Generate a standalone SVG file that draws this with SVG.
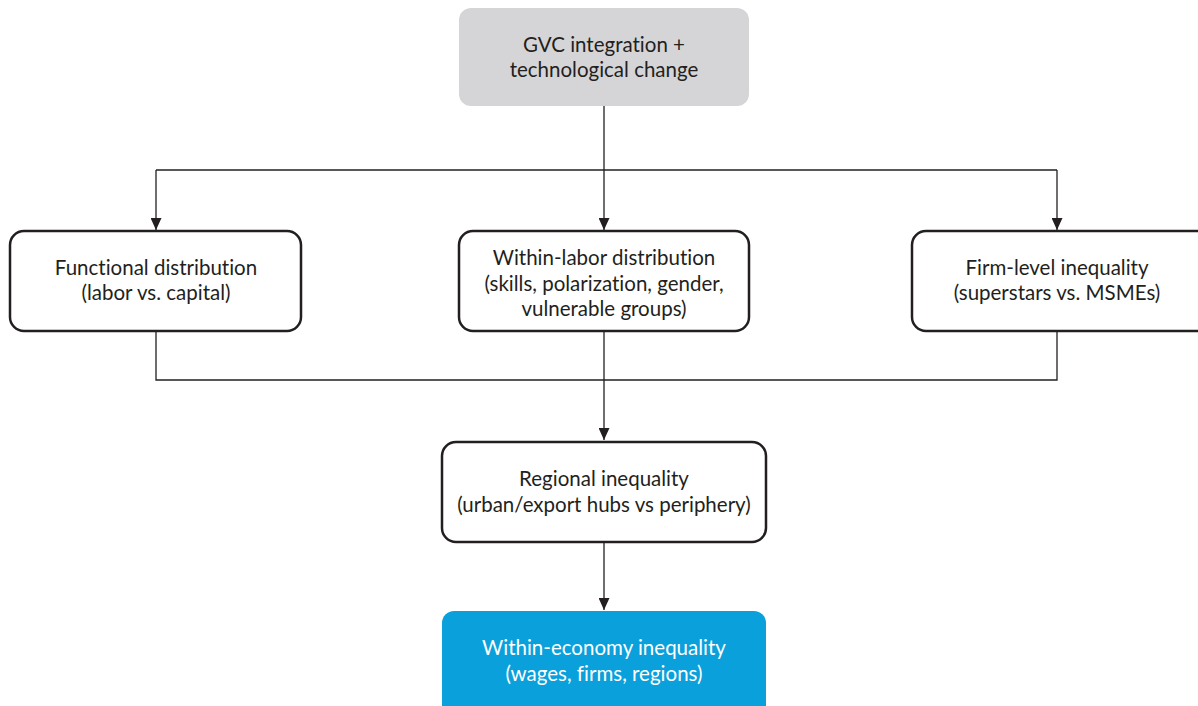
<svg xmlns="http://www.w3.org/2000/svg" width="1198" height="706" viewBox="0 0 1198 706">
<style>
.box{fill:#ffffff;stroke:#231f20;stroke-width:2.5}
.t{font-family:Lato,"Open Sans",sans-serif;font-size:20.5px;fill:#231f20;text-anchor:middle;font-variant-ligatures:none;font-feature-settings:"liga" 0,"clig" 0,"dlig" 0}
.w{fill:#ffffff}
.c{fill:none;stroke:#231f20;stroke-width:1.3}
</style>
<defs>
<marker id="ah" viewBox="0 0 12 11" refX="12" refY="5.5" markerWidth="12" markerHeight="11" markerUnits="userSpaceOnUse" orient="auto">
<path d="M0,0 L12,5.5 L0,11 z" fill="#231f20"/>
</marker>
</defs>
<rect width="1198" height="706" fill="#ffffff"/>
<g id="connectors">
<path class="c" d="M604,106 V170"/>
<path class="c" d="M156,170 H1057"/>
<path class="c" d="M156,170 V230" marker-end="url(#ah)"/>
<path class="c" d="M604,170 V230" marker-end="url(#ah)"/>
<path class="c" d="M1057,170 V230" marker-end="url(#ah)"/>
<path class="c" d="M156,332 V380 H1057 V332"/>
<path class="c" d="M604,332 V440" marker-end="url(#ah)"/>
<path class="c" d="M604,543 V610" marker-end="url(#ah)"/>
</g>
<g id="n-top">
<rect x="459" y="8" width="290" height="98" rx="12" fill="#d5d5d7"/>
<text class="t" x="604" y="52">GVC integration +</text>
<text class="t" x="604" y="77">technological change</text>
</g>
<g id="n-functional">
<rect class="box" x="10" y="231" width="291" height="100" rx="14"/>
<text class="t" x="156" y="275">Functional distribution</text>
<text class="t" x="156" y="300">(labor vs. capital)</text>
</g>
<g id="n-withinlabor">
<rect class="box" x="459" y="231" width="290" height="100" rx="14"/>
<text class="t" x="604" y="265">Within-labor distribution</text>
<text class="t" x="604" y="291">(skills, polarization, gender,</text>
<text class="t" x="604" y="316">vulnerable groups)</text>
</g>
<g id="n-firm">
<rect class="box" x="912" y="231" width="300" height="100" rx="14"/>
<text class="t" x="1057" y="275">Firm-level inequality</text>
<text class="t" x="1057" y="300">(superstars vs. MSMEs)</text>
</g>
<g id="n-regional">
<rect class="box" x="442" y="442" width="324" height="100" rx="14"/>
<text class="t" x="604" y="486">Regional inequality</text>
<text class="t" x="604" y="512">(urban/export hubs vs periphery)</text>
</g>
<g id="n-within-economy">
<rect x="442" y="611" width="324" height="110" rx="12" fill="#0aa0db"/>
<text class="t w" x="604" y="655">Within-economy inequality</text>
<text class="t w" x="604" y="681">(wages, firms, regions)</text>
</g>
</svg>
